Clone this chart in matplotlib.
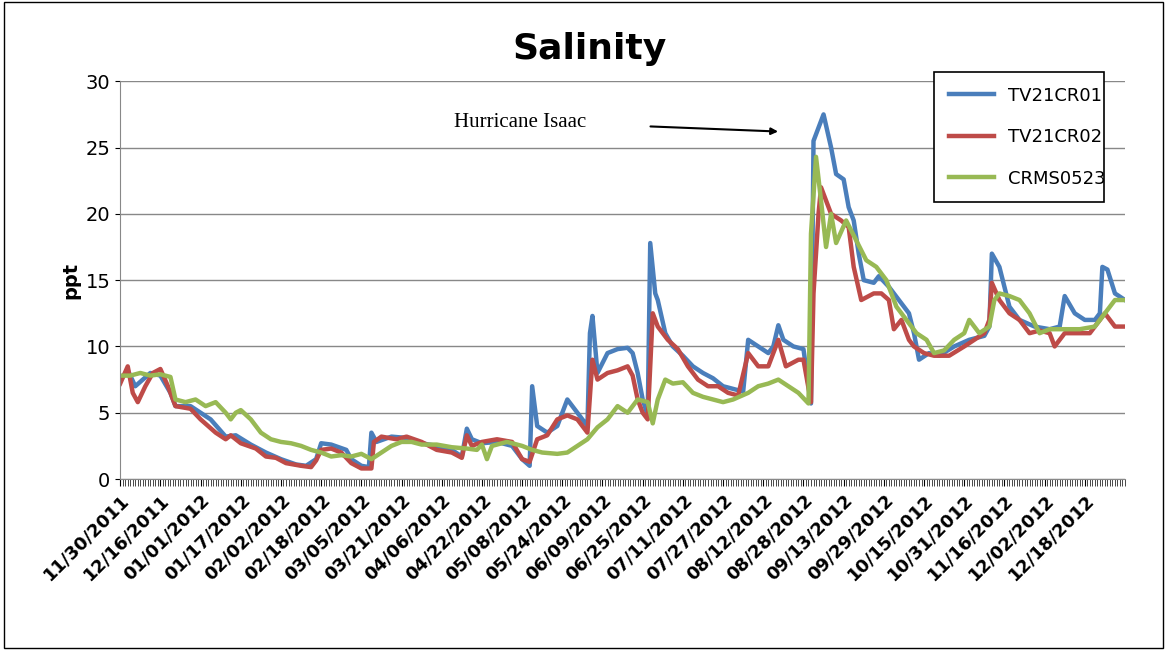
import matplotlib
matplotlib.use("Agg")
from matplotlib import pyplot as plt
import numpy as np
import datetime as dt

start = dt.date(2011, 11, 30)

blue_days = [0,3,6,9,12,16,20,22,28,32,36,42,46,52,58,64,70,74,78,80,84,90,92,96,99,100,102,108,114,120,126,132,136,138,140,144,150,156,160,163,164,166,170,174,178,182,186,187,188,190,194,198,202,204,206,208,210,211,213,214,217,220,224,228,232,236,240,244,248,250,254,258,260,262,264,268,272,275,276,280,283,285,288,290,292,294,296,300,302,306,310,314,316,318,322,326,332,338,344,346,347,350,354,358,364,370,374,376,380,384,388,390,391,393,396,400]
blue_vals = [7.5,8.2,7.0,7.5,8.0,7.8,6.5,5.5,5.5,5.0,4.5,3.2,3.3,2.6,2.0,1.5,1.1,1.0,1.5,2.7,2.6,2.2,1.5,1.0,0.9,3.5,2.8,3.2,3.1,2.7,2.5,2.2,1.7,3.8,3.0,2.7,2.8,2.5,1.5,1.0,7.0,4.0,3.5,4.0,6.0,5.0,4.0,11,12.3,8.0,9.5,9.8,9.9,9.5,8.0,6.0,4.8,17.8,14.0,13.5,11.0,10.0,9.3,8.5,8.0,7.6,7.0,6.8,6.6,10.5,10.0,9.5,10.0,11.6,10.5,10.0,9.8,5.7,25.5,27.5,25,23,22.6,20.5,19.5,17,15,14.8,15.3,14.5,13.5,12.5,11.0,9.0,9.5,9.3,10.0,10.5,10.8,11.5,17.0,16.0,13.0,12.0,11.5,11.3,11.5,13.8,12.5,12.0,12.0,12.5,16.0,15.8,14.0,13.5]

red_days = [0,3,5,7,10,13,16,19,22,28,32,38,42,44,48,54,58,62,66,72,76,78,80,84,88,92,96,100,101,104,110,114,120,126,132,136,138,140,144,150,156,160,163,166,170,174,178,182,186,188,190,194,198,202,204,206,208,210,212,214,218,222,226,230,234,238,242,246,250,254,258,262,265,270,272,275,276,278,279,283,287,290,292,295,298,300,303,306,308,311,314,316,320,324,330,336,340,344,346,347,350,354,358,362,366,370,372,376,380,386,390,392,396,400]
red_vals = [7.2,8.5,6.5,5.8,7.0,8.0,8.3,7.0,5.5,5.3,4.5,3.5,3.0,3.3,2.7,2.3,1.7,1.6,1.2,1.0,0.9,1.4,2.2,2.3,2.0,1.2,0.8,0.8,2.8,3.2,3.0,3.2,2.8,2.2,2.0,1.6,3.3,2.5,2.8,3.0,2.8,1.5,1.3,3.0,3.3,4.5,4.8,4.5,3.5,9.0,7.5,8.0,8.2,8.5,7.8,6.0,5.0,4.5,12.5,11.5,10.5,9.8,8.5,7.5,7.0,7.0,6.5,6.3,9.5,8.5,8.5,10.5,8.5,9.0,9.0,5.8,14,20.0,22.0,20,19.5,19.0,16.0,13.5,13.8,14.0,14.0,13.5,11.3,12.0,10.5,10.0,9.5,9.3,9.3,10.0,10.5,11.0,12.0,14.8,13.5,12.5,12.0,11.0,11.2,11.0,10.0,11.0,11.0,11.0,12.0,12.5,11.5,11.5]

green_days = [0,4,8,12,16,20,22,26,30,34,38,42,44,46,48,52,56,60,64,68,72,76,80,84,88,92,96,100,104,108,112,116,120,126,132,138,142,144,146,148,154,160,164,168,174,178,182,186,190,194,198,202,206,210,212,214,217,220,224,228,232,236,240,244,250,254,258,262,266,270,274,275,277,279,281,283,285,289,293,297,301,305,309,313,317,321,324,328,332,336,338,342,346,348,350,354,358,362,366,370,376,382,388,392,396,400]
green_vals = [7.8,7.8,8.0,7.8,7.9,7.7,6.0,5.8,6.0,5.5,5.8,5.0,4.5,5.0,5.2,4.5,3.5,3.0,2.8,2.7,2.5,2.2,2.0,1.7,1.8,1.7,1.9,1.5,2.0,2.5,2.8,2.8,2.6,2.6,2.4,2.3,2.2,2.6,1.5,2.5,2.8,2.5,2.2,2.0,1.9,2.0,2.5,3.0,3.9,4.5,5.5,5.0,6.0,5.8,4.2,6.0,7.5,7.2,7.3,6.5,6.2,6.0,5.8,6.0,6.5,7.0,7.2,7.5,7.0,6.5,5.7,18.5,24.3,21.0,17.5,20.0,17.8,19.5,18.0,16.5,16.0,15.0,13.0,12.0,11.0,10.5,9.5,9.7,10.5,11.0,12.0,11.0,11.5,13.5,14.0,13.8,13.5,12.5,11.0,11.3,11.3,11.3,11.5,12.5,13.5,13.5]

to_dates = lambda days: [start + dt.timedelta(days=d) for d in days]

fig = plt.figure(figsize=(11.67, 6.5), dpi=100)
ax = fig.add_axes([0.103, 0.263, 0.861, 0.612])
ax.plot(to_dates(blue_days), blue_vals, color="#4a7ebb", lw=3.2, label="TV21CR01")
ax.plot(to_dates(red_days), red_vals, color="#be4b48", lw=3.2, label="TV21CR02")
ax.plot(to_dates(green_days), green_vals, color="#98b954", lw=3.2, label="CRMS0523")

ax.set_ylim(0, 30)
ax.set_yticks(range(0, 31, 5))
ax.set_xlim(start, start + dt.timedelta(days=400))
ticks = [start + dt.timedelta(days=16 * i) for i in range(25)]
ax.set_xticks(ticks)
ax.set_xticklabels([t.strftime("%m/%d/%Y") for t in ticks], rotation=45, ha="right",
                   rotation_mode="anchor", fontsize=13, fontweight="bold")
ax.set_xticks([start + dt.timedelta(days=i) for i in range(401)], minor=True)
ax.tick_params(axis="x", which="minor", length=5, width=0.5)
ax.tick_params(axis="x", which="major", length=5)
ax.tick_params(axis="y", labelsize=14)
ax.grid(axis="y", color="#888888", lw=1)
for s in ["top", "right"]:
    ax.spines[s].set_visible(False)
ax.spines["left"].set_color("#888888")
ax.spines["bottom"].set_color("#888888")
ax.set_ylabel("ppt", fontsize=14, fontweight="bold")
fig.text(0.505, 0.925, "Salinity", ha="center", va="center", fontsize=26, fontweight="bold")

fig.text(0.389, 0.812, "Hurricane Isaac", family="Liberation Serif", fontsize=15, va="center")
ax.annotate("", xy=(start + dt.timedelta(days=263), 26.2), xytext=(start + dt.timedelta(days=210), 26.6),
            arrowprops=dict(arrowstyle="-|>", color="black", lw=1.5))

leg = ax.legend(loc="center left", bbox_to_anchor=(0.793, 0.685, 0.161, 0.208), bbox_transform=fig.transFigure,
                mode="expand", fontsize=13, frameon=True, fancybox=False, edgecolor="black",
                handlelength=2.5, labelspacing=1.3, borderpad=0.8, framealpha=1)
leg.get_frame().set_linewidth(1.2)

fig.add_artist(plt.Rectangle((0.003, 0.003), 0.994, 0.994, transform=fig.transFigure,
                             fill=False, edgecolor="black", lw=1))
fig.savefig("out.png", dpi=100)
